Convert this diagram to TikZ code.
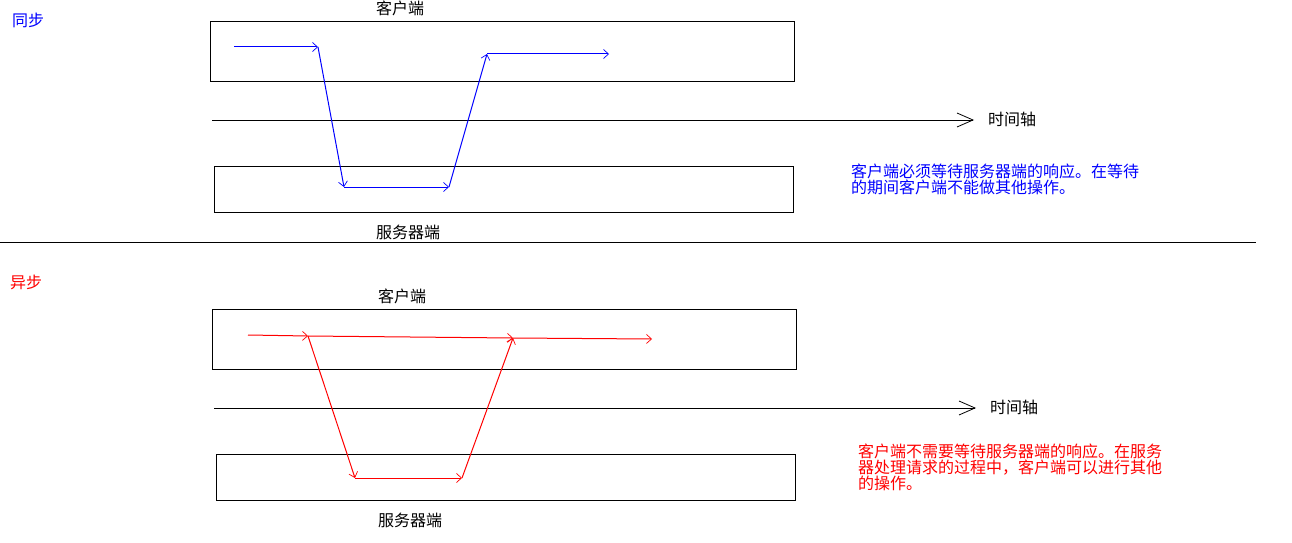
\documentclass[tikz,border=0pt]{standalone}
\usepackage{fontspec}
\newfontfamily\cjk{Noto Sans CJK SC}
\usetikzlibrary{arrows.meta}
\begin{document}
\begin{tikzpicture}[x=1pt,y=-1pt,
  box/.style={draw=black,line width=1pt,minimum width=#1,anchor=north west,inner sep=0pt},
  lbl/.style={inner sep=0pt,font=\cjk\fontsize{16}{16}\selectfont},
  para/.style={inner sep=0pt,anchor=north west,align=left,font=\cjk\fontsize{16}{16}\selectfont},
  tl/.style={line width=1pt,-{Straight Barb[length=16pt,width=14pt,line width=0.8pt]}},
  flow/.style={line width=1pt,-{Straight Barb[length=5pt,width=9pt,line width=0.7pt]}}]
\useasboundingbox (0,0) rectangle (1292,543);
% ---------- top: synchronous ----------
\node[lbl,text=blue,anchor=west] (sync) at (12,20) {同步};
\node[lbl] (cl1) at (400,8) {客户端};
\node[box=584pt,minimum height=60pt] (cbox1) at (210,21) {};
\coordinate (t1a) at (212,120);
\coordinate (t1b) at (974,120);
\draw[tl] (t1a) -- (t1b);
\node[lbl,anchor=west] (ax1) at (988,119) {时间轴};
\node[box=579pt,minimum height=46pt] (sbox1) at (214,166) {};
\node[lbl] (sv1) at (408,232) {服务器端};
\node[para,text=blue] (note1) at (851,164) {客户端必须等待服务器端的响应。在等待\\的期间客户端不能做其他操作。};
\coordinate (s1) at (234,47);
\coordinate (s2) at (318,47);
\coordinate (s3) at (344,187);
\coordinate (s4) at (449,187);
\coordinate (s5) at (487,54);
\coordinate (s6) at (609,54);
\draw[flow,blue] (s1) -- (s2);
\draw[flow,blue] (s2) -- (s3);
\draw[flow,blue] (s3) -- (s4);
\draw[flow,blue] (s4) -- (s5);
\draw[flow,blue] (s5) -- (s6);
% separator
\coordinate (sepa) at (0,242);
\coordinate (sepb) at (1256,242);
\draw[line width=1pt] (sepa) -- (sepb);
% ---------- bottom: asynchronous ----------
\node[lbl,text=red,anchor=west] (async) at (10,282) {异步};
\node[lbl] (cl2) at (402,296) {客户端};
\node[box=584pt,minimum height=60pt] (cbox2) at (212,309) {};
\coordinate (t2a) at (214,408);
\coordinate (t2b) at (976,408);
\draw[tl] (t2a) -- (t2b);
\node[lbl,anchor=west] (ax2) at (990,407) {时间轴};
\node[box=579pt,minimum height=46pt] (sbox2) at (216,454) {};
\node[lbl] (sv2) at (410,520) {服务器端};
\node[para,text=red] (note2) at (858,444) {客户端不需要等待服务器端的响应。在服务\\器处理请求的过程中，客户端可以进行其他\\的操作。};
\coordinate (r1) at (248,335);
\coordinate (r2) at (308,336);
\coordinate (r3) at (513,338);
\coordinate (r4) at (652,339);
\coordinate (r5) at (355,478);
\coordinate (r6) at (462,478);
\draw[flow,red] (r1) -- (r2);
\draw[flow,red] (r2) -- (r3);
\draw[flow,red] (r3) -- (r4);
\draw[flow,red] (r2) -- (r5);
\draw[flow,red] (r5) -- (r6);
\draw[flow,red] (r6) -- (r3);
\end{tikzpicture}
\end{document}
